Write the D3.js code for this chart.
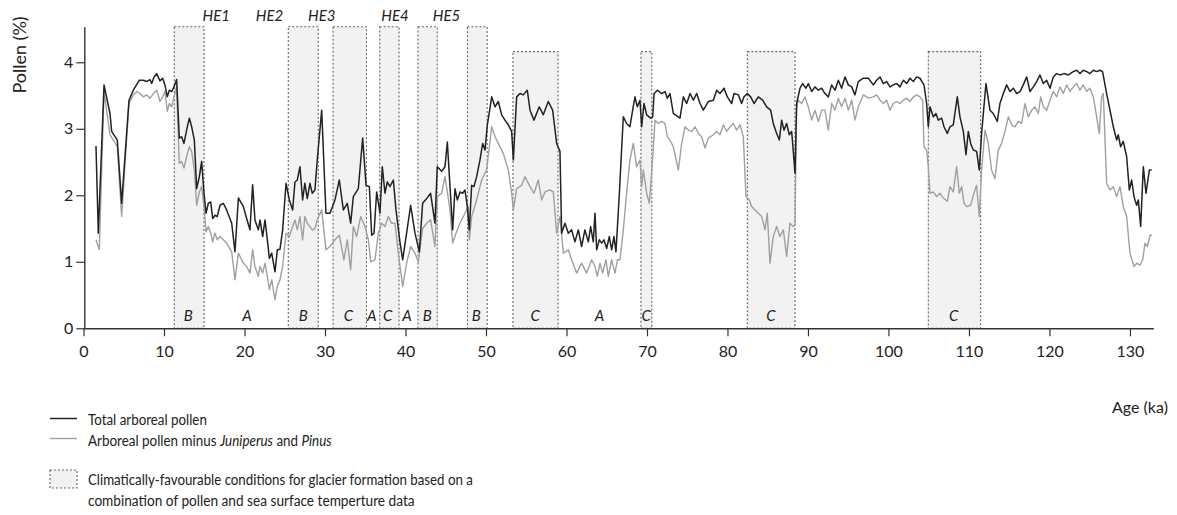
<!DOCTYPE html>
<html><head><meta charset="utf-8">
<script src="https://cdn.jsdelivr.net/npm/d3@7"></script>
<style>
body{margin:0;background:#fff}
svg{display:block}
text{font-family:Lato,'Open Sans',sans-serif;fill:#222}
</style>
</head><body>
<svg id="chart" width="1177" height="515"></svg>
<script>
// ---------- data ----------
const xTicks = [0,10,20,30,40,50,60,70,80,90,100,110,120,130];
const yTicks = [0,1,2,3,4];

const boxStart = [11.28,25.44,31.0,36.8,41.55,47.7,53.35,69.25,82.47,104.95];
const boxEnd   = [14.97,29.17,35.15,39.2,43.95,50.15,58.95,70.6,88.39,111.45];
const boxTop   = [4.535,4.535,4.535,4.535,4.535,4.535,4.16,4.16,4.16,4.16];

const zoneLetters = ["B","A","B","C","A","C","A","B","B","C","A","C","C","C"];
const zoneAges    = [13.0,20.3,27.3,32.9,35.8,37.8,40.2,42.7,48.8,56.1,64.1,69.9,85.4,108.1];

const heLabels = ["HE1","HE2","HE3","HE4","HE5"];
const heAges   = [16.5,23.1,29.6,38.7,45.1];

const totalArboreal = [
[1.55,2.74],[1.84,1.43],[2.55,3.66],[3.29,3.23],[3.5,2.96],[4.2,2.83],[4.74,1.88],[5.65,3.43],[6.19,3.58],[6.94,3.73],[7.43,3.73],[7.85,3.71],[8.26,3.74],[8.47,3.68],[8.76,3.78],[9.09,3.83],[9.5,3.72],[9.83,3.76],[10.12,3.66],[10.41,3.48],[10.66,3.58],[10.95,3.56],[11.24,3.63],[11.57,3.74],
[11.9,2.86],[12.19,2.88],[12.48,2.78],[12.81,2.98],[13.15,3.16],[13.44,3.03],[13.77,2.83],[14.06,2.10],[14.39,2.28],[14.68,2.51],[14.97,2.03],[15.22,1.73],[15.51,1.88],[15.8,1.90],[16.05,1.65],[16.34,1.70],[16.62,1.68],[16.96,1.85],[17.37,1.88],[17.78,1.78],[18.41,1.58],[18.82,1.15],[19.24,1.96],[19.86,1.83],[20.27,1.65],[20.68,1.48],[21.01,2.16],[21.3,1.63],[21.72,1.48],[21.93,1.63],[22.26,1.38],[22.55,1.63],[22.84,1.33],[23.09,1.05],[23.38,1.13],[23.79,0.85],[24.08,1.18],[24.41,1.19],[24.74,1.48],
[25.16,2.18],[25.57,1.93],[25.98,1.78],[26.27,2.2],[26.56,2.23],[26.89,2.43],[27.22,1.93],[27.5,2.18],[27.8,1.95],[28.13,2.18],[28.42,2.03],[28.75,2.08],[29.04,2.53],[29.59,3.28],[30.12,1.73],[30.62,1.73],
[31.24,1.93],[31.78,2.23],[32.28,1.78],[32.77,1.88],[33.19,1.58],[33.52,1.98],[34.14,2.10],[34.68,2.86],[35.1,2.15],[35.51,2.13],[35.8,1.40],[36.09,1.43],[36.42,2.05],[36.83,1.73],[37.12,2.43],[37.45,2.03],[37.74,2.2],[38.07,2.13],[38.49,2.23],[38.82,1.78],[39.31,1.30],[39.65,1.03],[40.14,1.43],[40.64,1.85],[41.18,1.43],[41.72,1.15],[42.13,1.88],[42.63,1.95],[43.12,2.03],[43.66,1.58],[43.95,2.43],[44.49,2.36],[44.91,2.43],[45.2,2.8],[45.53,2.13],[45.86,1.48],[46.15,2.1],[46.44,1.93],[46.77,2.05],[47.1,2.03],[47.39,2.08],[47.68,1.83],[47.93,1.48],[48.22,2.15],[48.51,2.13],[48.84,2.28],[49.25,2.53],[49.59,2.78],[49.88,2.68],[50.17,3.06],[50.71,3.48],[51.12,3.33],[51.53,3.41],[51.95,3.21],[52.36,3.13],[52.77,3.06],[53.19,2.96],[53.4,2.53],[53.81,3.48],[54.22,3.53],[54.63,3.51],[55.13,3.58],[55.47,3.28],[55.96,3.13],[56.62,3.33],[57.12,3.21],[57.74,3.41],[58.28,3.28],[58.78,2.78],[59.19,2.66],[59.4,1.43],[59.81,1.58],[60.23,1.43],[60.64,1.48],[61.05,1.30],[61.47,1.48],[61.88,1.23],[62.29,1.48],[62.71,1.30],
[63.0,1.53],[63.33,1.30],[63.54,1.73],[63.75,1.18],[64.08,1.33],[64.37,1.28],[64.66,1.33],[64.99,1.2],[65.32,1.38],[65.61,1.18],[65.9,1.38],[66.15,1.15],[66.57,2.03],[67.06,3.18],[67.47,3.08],[67.88,3.03],[68.22,3.28],[68.51,3.48],[68.8,3.33],[69.13,3.43],[69.34,3.03],[69.63,3.38],[69.96,3.21],[70.46,3.16],[70.71,3.18],[70.88,3.53],[71.29,3.58],[71.82,3.53],[72.24,3.56],[72.53,3.46],[72.86,3.53],[73.27,3.23],[74.1,3.16],[74.52,3.48],[74.93,3.38],[75.35,3.53],[75.76,3.43],[76.17,3.53],[76.59,3.38],[77.0,3.28],[77.62,3.41],[78.25,3.43],[78.66,3.58],[79.07,3.53],[79.57,3.61],[79.98,3.48],[80.52,3.38],[80.81,3.53],[81.35,3.51],[81.76,3.38],[82.05,3.48],[82.47,3.53],[82.88,3.48],[83.3,3.38],[83.83,3.48],[84.37,3.43],[84.87,3.33],[85.36,3.28],[85.69,3.08],[86.11,2.93],[86.44,2.83],[86.73,3.13],[87.02,2.98],[87.35,3.08],[87.68,2.91],[87.97,2.96],[88.1,2.78],[88.39,2.33],[88.59,3.38],[89.01,3.61],[89.34,3.68],[89.75,3.61],[90.04,3.68],[90.46,3.56],[90.87,3.63],[91.29,3.58],[91.7,3.61],[92.11,3.53],[92.53,3.48],[92.94,3.66],[93.36,3.58],[93.77,3.73],[94.18,3.61],[94.6,3.78],[95.01,3.66],[95.43,3.63],[95.84,3.51],[96.25,3.71],[96.88,3.76],[97.5,3.76],
[98.12,3.66],[98.53,3.73],[98.95,3.78],[99.36,3.68],[99.78,3.71],[100.19,3.63],[100.6,3.66],[101.02,3.68],[101.43,3.63],[101.85,3.73],[102.26,3.68],[102.67,3.76],[103.09,3.71],[103.5,3.78],[103.91,3.76],[104.41,3.66],[104.74,3.38],[104.95,3.03],[105.16,3.33],[105.57,3.18],[105.9,3.23],[106.19,3.13],[106.61,3.16],[106.9,3.03],[107.31,2.93],[107.64,3.03],[108.05,3.06],[108.55,3.48],[108.88,3.18],[109.3,2.96],[109.63,2.61],[109.92,2.96],[110.21,2.78],[110.54,2.68],[110.95,2.66],[111.28,2.38],[111.57,2.93],[112.11,3.68],[112.61,3.28],[113.02,3.23],[113.52,3.11],[113.85,3.38],[114.27,3.53],[114.68,3.66],[115.1,3.56],[115.51,3.61],[115.93,3.53],[116.34,3.56],[116.75,3.66],[117.17,3.78],[117.58,3.56],[118.0,3.63],[118.41,3.71],[118.82,3.81],[119.24,3.68],[119.65,3.73],[120.07,3.61],[120.48,3.78],[120.89,3.83],[121.31,3.81],[121.8,3.83],[122.34,3.81],[122.96,3.86],[123.38,3.88],[123.79,3.83],[124.2,3.88],[124.62,3.86],[125.03,3.83],[125.45,3.88],[125.86,3.86],[126.27,3.88],[126.6,3.86],[127.1,3.53],[127.52,3.28],[127.93,3.03],[128.35,2.83],[128.55,2.91],[128.84,2.73],[129.17,2.81],[129.59,2.58],[129.92,2.08],[130.21,2.23],[130.5,1.98],[130.83,1.85],[131.04,1.93],[131.33,1.53],[131.66,2.43],[131.99,2.03],[132.41,2.38],[132.7,2.38]
];

const minusJuniperusPinus = [
[1.55,1.33],[1.96,1.18],[2.55,3.56],[3.29,2.91],[3.71,2.83],[4.2,2.73],[4.74,1.68],[5.65,3.38],[6.19,3.51],[6.69,3.56],[7.02,3.53],[7.43,3.48],[7.85,3.51],[8.26,3.46],[8.68,3.53],[9.09,3.58],[9.5,3.41],[9.83,3.48],[10.12,3.56],[10.41,3.26],[10.66,3.38],[10.95,3.33],[11.24,3.48],[11.57,3.63],
[11.9,2.48],[12.19,2.51],[12.48,2.41],[12.81,2.58],[13.15,2.73],[13.44,2.66],[13.77,2.38],[14.06,1.85],[14.39,2.05],[14.68,2.13],[14.97,1.83],[15.22,1.45],[15.51,1.53],[15.8,1.43],[16.05,1.30],[16.34,1.43],[16.62,1.33],[16.96,1.38],[17.37,1.33],[17.78,1.28],[18.41,1.15],[18.82,0.73],[19.24,1.13],[19.86,0.98],[20.27,0.93],[20.68,0.83],[21.01,1.18],[21.3,0.93],[21.72,0.78],[21.93,0.93],[22.26,0.83],[22.55,0.98],[22.84,0.78],[23.09,0.58],[23.38,0.73],[23.79,0.43],[24.08,0.63],[24.41,0.73],[24.74,0.93],
[25.16,1.43],[25.57,1.38],[25.98,1.53],[26.27,1.63],[26.56,1.48],[26.89,1.68],[27.22,1.33],[27.5,1.68],[27.8,1.58],[28.13,1.53],[28.42,1.48],[28.75,1.50],[29.04,1.63],[29.59,1.78],[30.12,1.18],[30.62,1.23],
[31.24,1.33],[31.78,1.40],[32.35,1.03],[32.77,1.33],[33.19,0.88],[33.52,1.53],[33.93,1.38],[34.43,1.68],[34.97,1.53],[35.39,1.33],[35.68,1.0],[36.21,1.03],[36.63,1.43],[37.04,1.58],[37.45,1.53],[37.87,1.68],[38.28,1.58],[38.69,1.58],[39.11,1.13],[39.65,0.63],[40.14,0.98],[40.64,1.23],[41.18,1.13],[41.59,1.0],[42.13,1.50],[42.63,1.58],[43.12,1.63],[43.66,1.23],[43.95,1.98],[44.49,2.03],[44.91,2.28],[45.53,1.78],[45.86,1.28],[46.27,1.43],[46.77,1.58],[47.39,1.73],[47.8,1.83],[47.93,1.33],[48.22,1.68],[48.84,1.93],[49.46,2.23],[50.08,2.38],[50.71,3.03],[51.12,2.88],[51.53,2.78],[52.15,2.63],[52.77,2.38],[53.19,2.03],[53.4,1.78],[53.81,2.1],[54.43,2.15],[54.84,2.28],[55.47,2.13],[55.96,2.03],[56.5,2.23],[56.91,1.93],[57.33,2.05],[57.95,2.08],[58.36,2.05],[58.78,1.43],[59.19,1.68],[59.61,1.13],[60.23,1.18],[60.64,1.03],[61.26,0.83],[61.88,0.98],[62.5,0.83],
[63.13,1.03],[63.54,0.93],[63.83,0.78],[64.16,0.98],[64.49,0.83],[64.9,1.03],[65.2,0.78],[65.61,1.03],[66.03,0.83],[66.32,1.03],[66.65,1.03],[67.06,1.48],[67.47,2.03],[67.88,2.53],[68.3,2.78],[68.71,2.43],[69.13,2.53],[69.34,2.13],[69.55,2.38],[69.96,2.03],[70.29,1.88],[70.58,2.33],[71.0,3.13],[71.41,3.08],[71.82,3.11],[72.24,3.08],[72.53,2.88],[72.86,2.83],[73.27,2.73],[73.9,2.38],[74.31,2.78],[74.72,3.03],[75.14,2.98],[75.55,2.96],[75.97,3.03],[76.38,2.93],[76.79,2.88],[77.21,2.71],[77.62,2.86],[78.25,2.91],[78.66,2.96],[79.07,2.91],[79.49,3.06],[79.9,2.96],[80.31,3.03],[80.73,3.08],[81.14,2.98],[81.55,3.06],[81.97,2.88],[82.3,1.98],[82.71,1.93],[83.0,1.83],[83.42,1.78],[83.83,1.73],[84.25,1.68],[84.66,1.48],[84.95,1.73],[85.28,0.98],[85.69,1.38],[86.11,1.53],[86.52,1.38],[86.94,1.48],[87.35,1.08],[87.76,1.58],[88.18,1.53],[88.39,1.55],[88.59,3.33],[88.8,3.43],[89.21,3.38],[89.63,3.48],[90.04,3.33],[90.46,3.13],[90.87,3.28],[91.29,3.11],[91.7,3.28],[92.11,3.28],[92.53,2.98],[92.94,3.38],[93.36,3.28],[93.77,3.46],[94.18,3.33],[94.6,3.46],[95.01,3.28],[95.43,3.43],[95.84,3.13],[96.25,3.33],[96.88,3.51],[97.5,3.46],
[98.12,3.48],[98.53,3.51],[98.95,3.43],[99.36,3.38],[99.78,3.43],[100.19,3.28],[100.6,3.38],[101.02,3.41],[101.43,3.38],[101.85,3.43],[102.26,3.46],[102.67,3.41],[103.09,3.48],[103.5,3.51],[103.91,3.48],[104.25,3.43],[104.41,2.73],[104.74,2.68],[104.95,2.43],[105.16,2.03],[105.57,2.05],[105.98,1.98],[106.4,2.03],[106.81,1.96],[107.31,1.91],[107.64,2.13],[108.05,2.05],[108.47,2.43],[108.8,2.03],[109.09,2.13],[109.38,1.88],[109.71,1.83],[110.21,1.85],[110.62,2.03],[110.95,2.15],[111.28,1.68],[111.57,2.38],[111.99,2.98],[112.4,2.78],[112.81,2.38],[113.23,2.25],[113.64,2.68],[114.06,2.78],[114.47,2.96],[114.89,3.18],[115.3,3.06],[115.71,3.03],[116.13,3.11],[116.54,3.08],[116.96,3.38],[117.37,3.18],[117.79,3.28],[118.2,3.33],[118.62,3.23],[118.91,3.48],[119.24,3.33],[119.65,3.28],[120.07,3.43],[120.48,3.56],[120.89,3.48],[121.31,3.63],[121.72,3.53],[122.13,3.66],[122.55,3.56],[122.96,3.63],[123.38,3.68],[123.79,3.58],[124.2,3.66],[124.62,3.56],[125.03,3.61],[125.45,3.48],[125.86,3.18],[126.19,2.93],[126.48,3.48],[126.69,3.53],[127.1,2.18],[127.52,2.08],[127.93,2.13],[128.35,1.98],[128.76,2.13],[129.17,1.83],[129.59,1.68],[130.0,1.13],[130.5,0.93],[130.83,0.98],[131.25,0.95],[131.58,1.03],[131.87,1.28],[132.16,1.23],[132.5,1.40],[132.74,1.40]
];

const legendLabels = [
  "Total arboreal pollen",
  ["Arboreal pollen minus ", "Juniperus", " and ", "Pinus"],
  "Climatically-favourable conditions for glacier formation based on a",
  "combination of pollen and sea surface temperture data"
];

// ---------- drawing ----------
const svg = d3.select("#chart");
const x = d3.scaleLinear().domain([0, 132.9]).range([83.5, 1153.3]);
const y = d3.scaleLinear().domain([0, 4.535]).range([328.3, 26.7]);

// squeeze a text horizontally (about its anchor) if it is wider than w
function fitWidth(sel, w, anchorX){
  sel.each(function(){
    const len = this.getBBox().width;
    if (len > w) {
      const k = w / len;
      this.setAttribute("transform", `translate(${anchorX},0) scale(${k},1) translate(${-anchorX},0)`);
    }
  });
}

// boxes
const boxes = boxStart.map((s,i)=>({s, e: boxEnd[i], t: boxTop[i]}));
svg.append("g").selectAll("rect").data(boxes).join("rect")
  .attr("x", d=>x(d.s)).attr("width", d=>x(d.e)-x(d.s))
  .attr("y", d=>y(d.t)).attr("height", d=>y(0)-y(d.t))
  .attr("fill","#f2f2f2").attr("stroke","#666").attr("stroke-width",1.1)
  .attr("stroke-dasharray","2,2");

// lines
const line = d3.line().x(d=>x(d[0])).y(d=>y(d[1]));
svg.append("path").datum(minusJuniperusPinus).attr("d", line)
  .attr("fill","none").attr("stroke","#a0a0a0").attr("stroke-width",1.4).attr("stroke-linejoin","round");
svg.append("path").datum(totalArboreal).attr("d", line)
  .attr("fill","none").attr("stroke","#222").attr("stroke-width",1.5).attr("stroke-linejoin","round");

// axes
const gx = svg.append("g").attr("transform",`translate(0,${y(0)})`)
  .call(d3.axisBottom(x).tickValues(xTicks).tickFormat(d3.format("d")).tickSize(8).tickSizeOuter(0).tickPadding(9));
const gy = svg.append("g").attr("transform",`translate(${x(0)+0.8},0)`)
  .call(d3.axisLeft(y).tickValues(yTicks).tickFormat(d3.format("d")).tickSize(8).tickSizeOuter(0).tickPadding(3));
[gx,gy].forEach(g=>{
  g.select(".domain").attr("stroke","#333").attr("stroke-width",1.4);
  g.selectAll(".tick line").attr("stroke","#333").attr("stroke-width",1.2);
  g.selectAll(".tick text").attr("font-family","Lato, 'Open Sans', sans-serif").attr("font-size",16).attr("fill","#222");
});

// zone letters
svg.append("g").selectAll("text").data(zoneLetters).join("text")
  .attr("x",(d,i)=>x(zoneAges[i])).attr("y", 315)
  .attr("text-anchor","middle").attr("dominant-baseline","central")
  .attr("font-style","italic").attr("font-size",15).text(d=>d);

// HE labels
svg.append("g").selectAll("text").data(heLabels).join("text")
  .attr("x",(d,i)=>x(heAges[i])).attr("y", 15)
  .attr("text-anchor","middle").attr("dominant-baseline","central")
  .attr("font-style","italic").attr("font-size",15).text(d=>d);

// axis titles
svg.append("text").attr("transform","translate(19,55) rotate(-90)")
  .attr("text-anchor","middle").attr("dominant-baseline","central")
  .attr("font-size",18).text("Pollen (%)");
svg.append("text").attr("x",1140).attr("y",406)
  .attr("text-anchor","middle").attr("dominant-baseline","central")
  .attr("font-size",16).text("Age (ka)");

// legend
const lg = svg.append("g");
lg.append("line").attr("x1",50).attr("x2",77).attr("y1",418.5).attr("y2",418.5).attr("stroke","#222").attr("stroke-width",1.5);
lg.append("line").attr("x1",50).attr("x2",77).attr("y1",438.5).attr("y2",438.5).attr("stroke","#a0a0a0").attr("stroke-width",1.4);
lg.append("rect").attr("x",50).attr("y",470).attr("width",27).attr("height",18)
  .attr("fill","#f2f2f2").attr("stroke","#666").attr("stroke-width",1.1).attr("stroke-dasharray","2,2");
const t1 = lg.append("text").attr("x",88).attr("y",419.5).attr("dominant-baseline","central").attr("font-size",15).text(legendLabels[0]);
fitWidth(t1,119,88);
const t2 = lg.append("text").attr("x",88).attr("y",439.5).attr("dominant-baseline","central").attr("font-size",15);
legendLabels[1].forEach((s,i)=>t2.append("tspan").attr("font-style", i%2===1?"italic":"normal").text(s));
fitWidth(t2,244,88);
const t3 = lg.append("text").attr("x",88).attr("y",479).attr("dominant-baseline","central").attr("font-size",15).text(legendLabels[2]);
fitWidth(t3,385,88);
const t4 = lg.append("text").attr("x",88).attr("y",500.5).attr("dominant-baseline","central").attr("font-size",15).text(legendLabels[3]);
fitWidth(t4,327,88);
</script>
</body></html>
